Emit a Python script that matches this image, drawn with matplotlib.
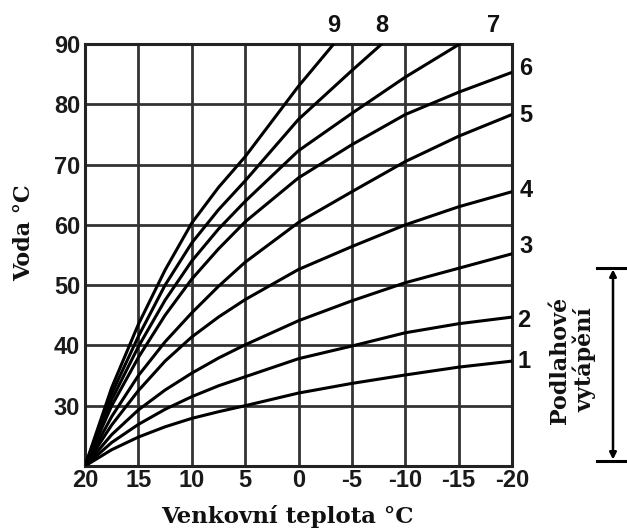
import matplotlib
matplotlib.use("Agg")
import matplotlib.pyplot as plt
from matplotlib.lines import Line2D
from matplotlib.patches import FancyArrowPatch

# ---------------- data ----------------
outdoor = [20, 17.5, 15, 12.5, 10, 7.5, 5, 0, -5, -10, -15, -20]

curve1 = [20, 22.7, 24.8, 26.5, 27.9, 29.0, 30.0, 32.1, 33.7, 35.1, 36.4, 37.4]
curve2 = [20, 23.9, 26.9, 29.4, 31.5, 33.3, 34.8, 37.8, 39.9, 42.1, 43.6, 44.7]
curve3 = [20, 25.2, 29.3, 32.6, 35.4, 37.9, 40.1, 44.1, 47.4, 50.4, 52.8, 55.2]
curve4 = [20, 26.8, 32.5, 37.4, 41.4, 44.7, 47.6, 52.6, 56.4, 60.0, 63.0, 65.5]
curve5 = [20, 28.2, 35.0, 40.6, 45.4, 49.8, 53.8, 60.4, 65.5, 70.5, 74.7, 78.3]
curve6 = [20, 30.0, 38.0, 45.0, 51.0, 56.0, 60.5, 67.8, 73.3, 78.3, 82.0, 85.3]

outdoor7 = [20, 17.5, 15, 12.5, 10, 7.5, 5, 0, -5, -10, -15.1]
curve7 = [20, 31.0, 39.8, 47.5, 54.0, 59.3, 63.9, 72.3, 78.5, 84.5, 90.0]
outdoor8 = [20, 17.5, 15, 12.5, 10, 7.5, 5, 0, -5, -7.8]
curve8 = [20, 32.0, 41.5, 50.0, 57.0, 62.5, 67.3, 77.5, 85.6, 90.0]
outdoor9 = [20, 17.5, 15, 12.5, 10, 7.5, 5, 0, -3.3]
curve9 = [20, 33.0, 43.5, 52.5, 60.3, 66.2, 71.3, 83.0, 90.0]

curve_names = ["1", "2", "3", "4", "5", "6", "7", "8", "9"]

x_ticks = [20, 15, 10, 5, 0, -5, -10, -15, -20]
x_tick_labels = ["20", "15", "10", "5", "0", "-5", "-10", "-15", "-20"]
y_ticks = [30, 40, 50, 60, 70, 80, 90]
y_tick_labels = ["30", "40", "50", "60", "70", "80", "90"]

x_title = "Venkovní teplota °C"
y_title = "Voda °C"
side_title = "Podlahové\nvytápění"

# ---------------- figure ----------------
W, H = 627, 532
fig = plt.figure(figsize=(W / 100, H / 100), dpi=100)
fig.patch.set_facecolor("white")
L, R, T, B = 85, 512, 44, 466
ax = fig.add_axes([L / W, 1 - B / H, (R - L) / W, (B - T) / H])

series = [
    (outdoor, curve1), (outdoor, curve2), (outdoor, curve3),
    (outdoor, curve4), (outdoor, curve5), (outdoor, curve6),
    (outdoor7, curve7), (outdoor8, curve8), (outdoor9, curve9),
]
# label offsets in pixels relative to each curve's end point (layout only)
label_offsets = [(12, 0), (12, -3), (14, 7), (14, 1), (14, -1), (14, 4),
                 (34, 18), (0, 18), (0, 18)]

for (xs, ys), name, off in zip(series, curve_names, label_offsets):
    ax.plot(xs, ys, color="black", lw=2.2, solid_capstyle="round",
            solid_joinstyle="round", zorder=3)
    ax.annotate(name, xy=(xs[-1], ys[-1]), xytext=off,
                textcoords="offset pixels", ha="center", va="center",
                fontsize=17, fontweight="bold", family="Liberation Sans",
                annotation_clip=False, color="#111111")

ax.set_xlim(20, -20)
ax.set_ylim(20, 90)
ax.set_xticks(x_ticks)
ax.set_xticklabels(x_tick_labels)
ax.set_yticks(y_ticks)
ax.set_yticklabels(y_tick_labels)
for lab in ax.get_xticklabels() + ax.get_yticklabels():
    lab.set_fontfamily("Liberation Sans")
    lab.set_fontweight("bold")
    lab.set_fontsize(17)
    lab.set_color("#1a1a1a")
ax.tick_params(axis="x", length=0, pad=2.5)
ax.tick_params(axis="y", length=0, pad=3.5)
ax.grid(True, color="#333333", lw=2.0, zorder=1)
ax.set_axisbelow(True)
for sp in ax.spines.values():
    sp.set_linewidth(2.2)
    sp.set_color("#222222")

# axis titles
fig.text(287 / W, 1 - 516 / H, x_title, ha="center", va="center",
         family="DejaVu Serif", fontweight="bold", fontsize=16.5, color="#111111")
fig.text(24 / W, 1 - 233 / H, y_title, ha="center", va="center", rotation=90,
         family="DejaVu Serif", fontweight="bold", fontsize=16, color="#111111")

# floor heating bracket
fig.text(573 / W, 1 - 360 / H, side_title, ha="center", va="center",
         rotation=90, multialignment="center", linespacing=1.1,
         family="DejaVu Serif", fontweight="bold", fontsize=16, color="#111111")
bx, btop, bbot = 613, 268, 461
fig.add_artist(Line2D([597 / W, 627 / W], [1 - btop / H, 1 - btop / H],
                      transform=fig.transFigure, color="black", lw=2.2))
fig.add_artist(Line2D([597 / W, 627 / W], [1 - bbot / H, 1 - bbot / H],
                      transform=fig.transFigure, color="black", lw=2.2))
fig.add_artist(FancyArrowPatch(
    (bx / W, 1 - bbot / H), (bx / W, 1 - btop / H),
    transform=fig.transFigure, arrowstyle="<|-|>", mutation_scale=10,
    lw=1.8, color="black", shrinkA=1, shrinkB=1))

fig.savefig("out.png", dpi=100, facecolor="white")
